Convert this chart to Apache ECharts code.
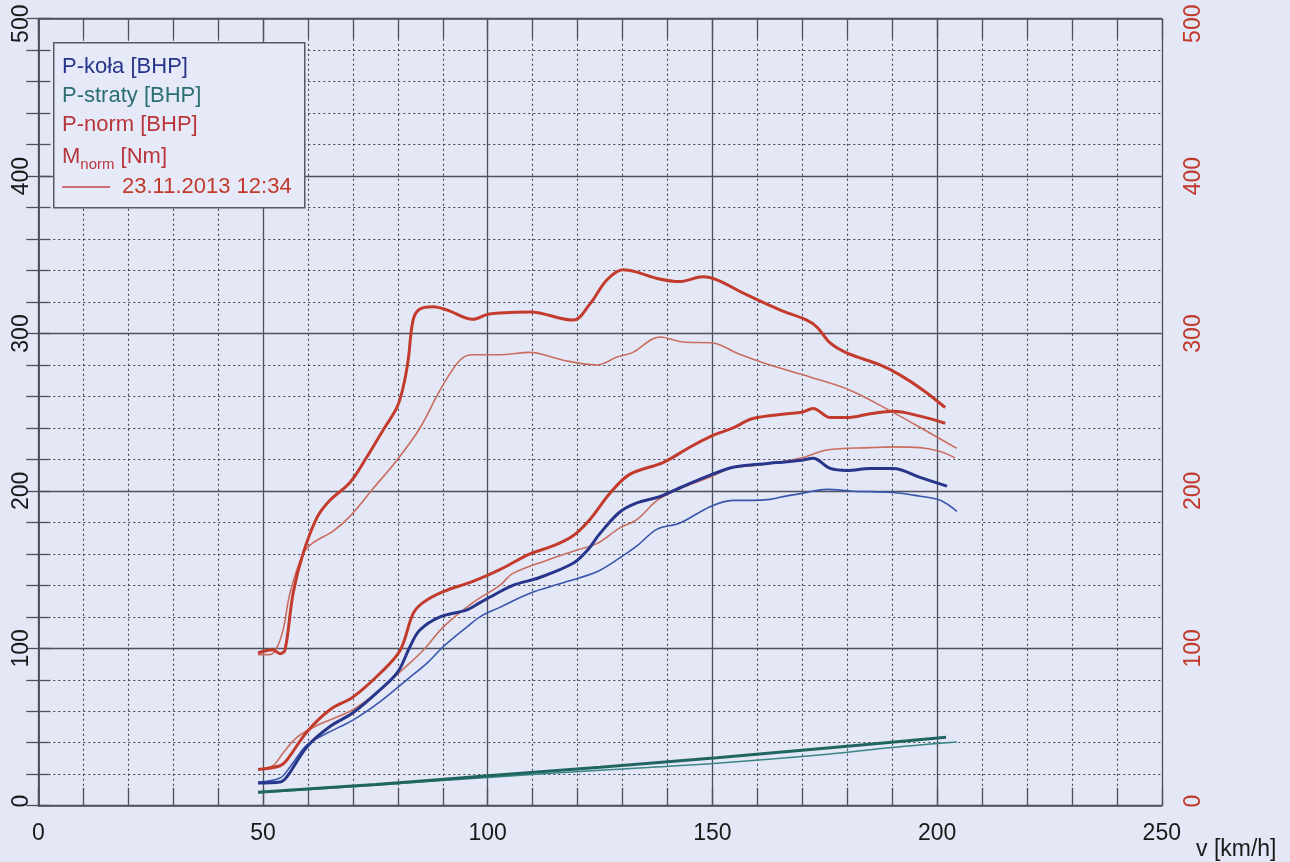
<!DOCTYPE html>
<html>
<head>
<meta charset="utf-8">
<script src="https://cdn.jsdelivr.net/npm/echarts@6/dist/echarts.min.js"></script>
<style>
html,body{margin:0;padding:0;background:#e3e7f6;}
#chart{width:1290px;height:862px;}
</style>
</head>
<body>
<div id="chart"></div>
<script>
// ---- data: [speed km/h, value] ----
const xTicks = [0, 50, 100, 150, 200, 250];
const yTicks = [0, 100, 200, 300, 400, 500];

const mNormThick = [[48.9,97],[52.2,99],[53.8,96.6],[54.9,99],[56.7,135],[58.9,160],[62.0,183],[64.9,194],[69.4,205.5],[73.1,221.5],[76.7,238.5],[79.8,253],[81.2,266],[82.3,283],[83.4,308.5],[84.9,315.5],[87.8,317],[90.9,315],[96.7,309],[99.8,312],[102.7,313],[109.4,313.6],[119.0,308.5],[122.8,319],[126.5,334],[130.1,340.5],[133.2,339],[137.7,335],[142.8,333],[147.9,336],[151.0,334],[157.7,324.5],[165.0,315],[171.0,308.5],[173.3,304],[176.2,294],[180.0,287.5],[187.3,280],[191.7,273.7],[196.9,264],[201.8,253]];
const mNormThin = [[48.9,96],[51.5,96],[53.0,100],[54.5,112],[56.0,135],[58.9,160],[61.1,167],[65.6,174.5],[69.4,184],[74.5,201.5],[79.8,219.5],[84.9,239.8],[89.4,264],[93.8,283],[96.7,286.5],[102.7,286.5],[109.4,288],[116.8,283],[124.3,280],[128.8,285],[132.3,288],[138.3,297.8],[143.5,294.6],[150.1,294],[155.5,287.5],[162.8,280],[171.7,272.4],[180.6,264],[189.5,251],[198.5,236.6],[204.4,227]];
const pNormThick = [[48.9,23],[53.8,25.4],[55.3,29],[59.8,47],[64.9,61],[70.0,69],[76.0,84],[80.5,98.6],[83.4,122],[85.6,129],[90.1,136],[96.7,142.5],[102.7,150],[109.4,160],[114.5,165],[119.0,171.5],[122.8,182],[127.2,198.5],[131.6,210.5],[139.0,218],[144.3,226.6],[149.5,234.5],[154.6,240],[159.0,246],[166.6,249],[169.9,250],[172.4,252.4],[176.2,246.6],[180.0,246.6],[185.1,249],[190.2,250.6],[196.2,247.5],[201.8,243]];
const pNormThin = [[48.9,23],[52.2,25.4],[54.5,33.6],[57.6,43.6],[62.0,51],[70.0,61],[76.0,73.5],[80.5,85],[85.6,98.6],[90.1,113.5],[96.7,129],[102.7,140],[105.6,147.6],[113.2,156],[119.9,162.4],[124.3,166.5],[129.4,176.5],[133.2,181.8],[137.7,194],[142.1,200.6],[149.5,208.8],[154.6,215],[159.0,216],[164.4,218],[169.9,221],[175.5,226],[185.1,227.5],[190.2,228],[196.2,227.5],[200.7,225],[204.0,221]];
const pKolaThick = [[48.9,14.4],[53.8,15],[55.3,18.3],[59.8,37.5],[64.9,50.3],[70.0,59],[76.0,73.5],[80.0,85],[82.7,101],[84.9,111.6],[89.4,120],[95.4,124.4],[98.3,129],[102.1,135],[105.6,140],[111.6,145],[119.0,154],[122.1,162],[125.0,173],[129.4,186.6],[133.2,192.4],[138.3,196.4],[142.8,202],[149.5,210],[154.6,215],[159.0,216.6],[164.4,218],[169.9,219.5],[172.4,220.7],[176.2,214.3],[180.0,213],[185.1,214.3],[190.2,214.3],[196.2,208.6],[202.2,203]];
const pKolaThin = [[48.9,15],[53.8,17.6],[56.0,24.6],[59.8,38.6],[64.2,46],[70.0,54.4],[76.0,66],[82.0,80],[86.5,90.6],[90.1,101],[95.4,113.6],[98.3,120],[102.7,126],[109.4,135],[116.8,141.6],[124.3,148.6],[129.4,157.4],[133.2,165],[137.7,175.7],[142.8,179.6],[149.5,190],[154.6,194],[159.0,194],[162.8,194.6],[165.0,196],[170.2,198.6],[175.5,201],[181.3,199.8],[190.2,199],[196.2,196.6],[200.7,194],[204.4,187]];
const pStratyThick = [[48.9,8.5],[75,13.5],[100,19],[125,24.5],[151,30.5],[175,36.5],[202,43.5]];
const pStratyThin = [[48.9,8.3],[75,13],[100,18],[125,22.5],[151,27],[175,32.5],[190,37],[204.4,40.5]];

const legendLabels = ['P-koła [BHP]', 'P-straty [BHP]', 'P-norm [BHP]', 'M', 'norm', ' [Nm]', '23.11.2013 12:34'];
const axisTitleX = 'v [km/h]';

const FONT = '"Liberation Sans", Arial, sans-serif';
const RED = '#c23b2d', RED_T = '#c96e5e';
const BLUE = '#27358a', BLUE_T = '#3a55ac';
const TEAL = '#21665e', TEAL_T = '#3a8585';
const GRIDC = '#4d515c';

function line(data, color, width, z) {
  return { type:'line', data:data, smooth:0.35, showSymbol:false, symbol:'none',
    lineStyle:{color:color, width:width}, z:z, animation:false, xAxisIndex:0, yAxisIndex:0 };
}
function yLabelFmt(v) {
  if (yTicks.indexOf(v) < 0) return '';
  if (v === yTicks[yTicks.length - 1]) return '{a|' + v + '}';
  if (v === yTicks[0]) return '{b|' + v + '}';
  return String(v);
}
function yRich(color) {
  return {
    a:{color:color, fontSize:23, fontFamily:FONT, padding:[0,10,0,0]},
    b:{color:color, fontSize:23, fontFamily:FONT, padding:[0,0,0,9]}
  };
}

const chart = echarts.init(document.getElementById('chart'), null, {renderer:'canvas'});
const baseY = {
  type:'value', min:0, max:500, interval:100,
  axisLine:{show:true, lineStyle:{color:GRIDC, width:1.5}},
  axisTick:{show:false},
  minorTick:{show:true, splitNumber:5, length:12, lineStyle:{color:GRIDC, width:1.3}},
};
chart.setOption({
  backgroundColor:'#e3e7f6',
  animation:false,
  grid:{left:38.3, right:128.2, top:18.7, bottom:56.3, containLabel:false, outerBoundsMode:'none'},
  xAxis:[{
    type:'value', min:0, max:250, interval:50, position:'bottom',
    axisLine:{show:true, onZero:false, lineStyle:{color:GRIDC, width:1.5}},
    axisTick:{show:true, inside:true, length:18, lineStyle:{color:GRIDC, width:1.3}},
    minorTick:{show:true, splitNumber:5, length:18, lineStyle:{color:GRIDC, width:1.3}},
    splitLine:{show:true, lineStyle:{color:GRIDC, width:1.3}},
    minorSplitLine:{show:true, lineStyle:{color:'#3d414c', width:1.1, type:[2,3]}},
    axisLabel:{show:true, color:'#1a1a1a', fontSize:23, fontFamily:FONT, margin:16,
      formatter:function(v){ return xTicks.indexOf(v) >= 0 ? String(v) : ''; }}
  },{
    type:'value', min:0, max:250, interval:50, position:'top',
    axisLine:{show:true, onZero:false, lineStyle:{color:GRIDC, width:1.5}},
    axisTick:{show:true, inside:true, length:20, lineStyle:{color:GRIDC, width:1.3}},
    minorTick:{show:true, splitNumber:5, length:20, lineStyle:{color:GRIDC, width:1.3}},
    splitLine:{show:false}, axisLabel:{show:false}
  }],
  yAxis:[Object.assign({}, baseY, {
    position:'left',
    axisTick:{show:true, inside:true, length:12, lineStyle:{color:GRIDC, width:1.3}},
    splitLine:{show:true, lineStyle:{color:GRIDC, width:1.3}},
    minorSplitLine:{show:true, lineStyle:{color:'#3d414c', width:1.1, type:[2,3]}},
    axisLabel:{show:true, rotate:90, color:'#1a1a1a', fontSize:23, fontFamily:FONT, margin:5,
      formatter:yLabelFmt, rich:yRich('#1a1a1a')}
  }), Object.assign({}, baseY, {
    position:'right',
    axisTick:{show:true, inside:true, length:12, lineStyle:{color:GRIDC, width:1.3}},
    splitLine:{show:false},
    axisLabel:{show:true, rotate:90, color:'#c0392b', fontSize:23, fontFamily:FONT, margin:20,
      formatter:yLabelFmt, rich:yRich('#c0392b')}
  })],
  series:[
    line(pStratyThin, TEAL_T, 1.6, 2),
    line(pKolaThin, BLUE_T, 1.6, 2),
    line(pNormThin, RED_T, 1.6, 2),
    line(mNormThin, RED_T, 1.6, 2),
    line(pStratyThick, TEAL, 3, 3),
    line(pKolaThick, BLUE, 3, 3),
    line(pNormThick, RED, 3, 3),
    line(mNormThick, RED, 3, 3)
  ],
  graphic:[
    {type:'rect', left:53, top:42, shape:{width:251, height:165},
      style:{fill:'#e6e9f7', stroke:'#555a63', lineWidth:1.5}, z:50},
    {type:'text', left:62, top:56, z:51, style:{text:legendLabels[0], fill:BLUE, font:'22px '+FONT}},
    {type:'text', left:62, top:85, z:51, style:{text:legendLabels[1], fill:'#2c6f70', font:'22px '+FONT}},
    {type:'text', left:62, top:114, z:51, style:{text:legendLabels[2], fill:'#b8363a', font:'22px '+FONT}},
    {type:'text', left:62, top:143, z:51, style:{
      text:'{m|'+legendLabels[3]+'}{s|'+legendLabels[4]+'}{m|'+legendLabels[5]+'}',
      rich:{ m:{fill:'#b8363a', font:'22px '+FONT, lineHeight:26, verticalAlign:'top'},
             s:{fill:'#b8363a', font:'15px '+FONT, lineHeight:26, verticalAlign:'bottom', padding:[14,0,0,0]} }}},
    {type:'line', z:51, shape:{x1:62, y1:187, x2:110, y2:187}, style:{stroke:'#c8454a', lineWidth:1.5}},
    {type:'text', left:122, top:176, z:51, style:{text:legendLabels[6], fill:'#c0392b', font:'22px '+FONT}},
    {type:'text', left:1196, top:838, z:51, style:{text:axisTitleX, fill:'#1a1a1a', font:'23px '+FONT}}
  ]
});
</script>
</body>
</html>
